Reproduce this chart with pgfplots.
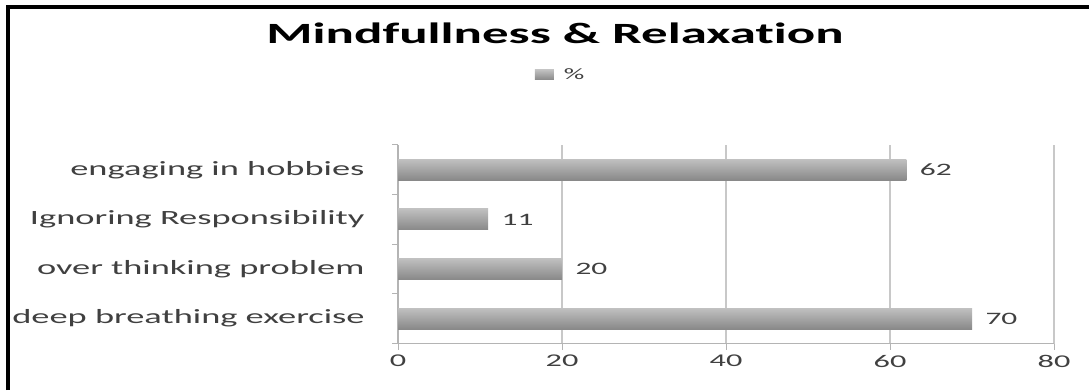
\documentclass[border=0pt]{standalone}
\usepackage{pgfplots}
\pgfplotsset{compat=1.18}
\usepackage{fontspec}
\setmainfont{Carlito}[FakeStretch=1.8, Ligatures=CommonOff]

\definecolor{txt}{HTML}{404040}
\definecolor{gridc}{HTML}{C8C8C8}
\definecolor{axisc}{HTML}{B4B4B4}
\definecolor{barTop}{HTML}{C0C0C0}
\definecolor{barMid}{HTML}{A6A6A6}
\definecolor{barBot}{HTML}{888888}
\definecolor{legc}{HTML}{A0A0A0}

\pgfplotsset{
  greybar/.style={xbar, bar width=21bp, draw=none, shade,
    top color=barTop, middle color=barMid, bottom color=barBot,
    nodes near coords,
    nodes near coords style={anchor=west, xshift=10bp, text=txt,
      font=\fontsize{17.5}{19}\selectfont}},
}

\begin{document}
\begin{tikzpicture}[x=1bp,y=1bp]
\useasboundingbox (0,0) rectangle (1089,390);
% frame on the left and top
\draw[line width=4bp] (8,0) -- (8,382.5) -- (1089,382.5);
\node[anchor=base, inner sep=0pt, font=\fontsize{29.5}{31}\selectfont\bfseries] at (555,347) {Mindfullness \& Relaxation};
\begin{axis}[
  at={(398bp,46.5bp)}, anchor=south west,
  scale only axis, width=656bp, height=198.5bp,
  xmin=0, xmax=80, ymin=-0.5, ymax=3.5,
  axis lines=left,
  axis line style={-, draw=axisc, line width=1.2bp},
  xtick={0,20,40,60,80},
  ytick={-0.5,0.5,1.5,2.5,3.5},
  y tick label as interval,
  yticklabels={deep breathing exercise, over thinking problem, Ignoring Responsibility, engaging in hobbies, {}},
  tick align=outside,
  major tick length=6bp,
  tick style={draw=axisc, line width=1bp},
  xmajorgrids,
  grid style={draw=gridc, line width=1.2bp},
  /pgf/number format/assume math mode=true,
  xticklabel style={font=\fontsize{18}{20}\selectfont, text=txt, yshift=-2bp},
  yticklabel style={font=\fontsize{20.3}{22}\selectfont, text=txt, xshift=-24bp},
  legend style={at={(0.248,1.353)}, anchor=center, draw=none, fill=none,
    font=\fontsize{16}{18}\selectfont, text=txt},
  legend image code/.code={\path[fill=legc] (0bp,-5bp) rectangle (19bp,5bp);},
  clip=false,
]
% one plot per bar, so that each bar carries its own shading
\addplot[greybar] coordinates {(70,0)};
\addlegendentry{\hspace{8bp}\%}
\addplot[greybar, forget plot] coordinates {(20,1)};
\addplot[greybar, forget plot] coordinates {(11,2)};
\addplot[greybar, forget plot] coordinates {(62,3)};
\end{axis}
\end{tikzpicture}
\end{document}
